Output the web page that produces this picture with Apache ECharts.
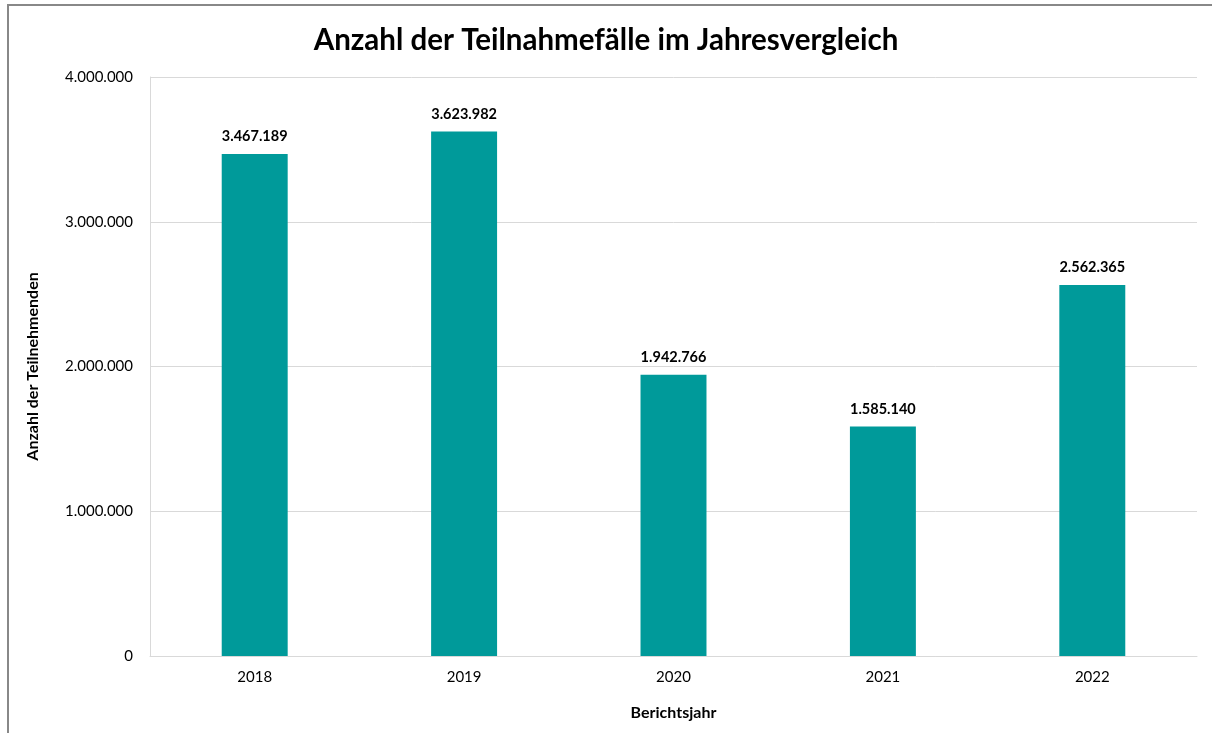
<!DOCTYPE html>
<html><head><meta charset="utf-8">
<script src="https://cdn.jsdelivr.net/npm/echarts@6/dist/echarts.min.js"></script>
<style>html,body{margin:0;padding:0;background:#fff}#c{width:1212px;height:733px}</style>
</head><body><div id="c"></div>
<script>
const categories = ['2018','2019','2020','2021','2022'];
const values = [3467189, 3623982, 1942766, 1585140, 2562365];
const yTicks = [0, 1000000, 2000000, 3000000, 4000000];
const FONT = 'Lato, "Open Sans", sans-serif';
function de(n){ return String(n).replace(/\B(?=(\d{3})+(?!\d))/g, '.'); }
const chart = echarts.init(document.getElementById('c'));
chart.setOption({
  animation:false,
  backgroundColor:'#fff',
  graphic:[
    {type:'line', shape:{x1:8,y1:4,x2:8,y2:733}, style:{stroke:'#888',lineWidth:2}},
    {type:'line', shape:{x1:7,y1:5,x2:1212,y2:5}, style:{stroke:'#888',lineWidth:2}}
  ],
  title:{text:'Anzahl der Teilnahmefälle im Jahresvergleich', left:'center', top:20,
    textStyle:{fontFamily:FONT,fontSize:29.5,fontWeight:'bold',color:'#000'}},
  grid:{left:150,right:15,top:77,bottom:77,containLabel:false},
  xAxis:{type:'category',data:categories,
    axisLine:{lineStyle:{color:'#d9d9d9'}},axisTick:{show:false},
    axisLabel:{fontFamily:FONT,fontSize:15,color:'#000',margin:14},
    name:'Berichtsjahr',nameLocation:'middle',nameGap:49,
    nameTextStyle:{fontFamily:FONT,fontSize:16,fontWeight:'bold',color:'#000'}},
  yAxis:{type:'value',min:0,max:4000000,interval:1000000,
    axisLine:{show:true,lineStyle:{color:'#d9d9d9'}},axisTick:{show:false},
    splitLine:{lineStyle:{color:'#d9d9d9'}},
    axisLabel:{fontFamily:FONT,fontSize:15,color:'#000',margin:17,
      formatter:v=>yTicks.includes(v)?de(v):''},
    name:'Anzahl der Teilnehmenden',nameLocation:'middle',nameGap:109,nameRotate:90,
    nameTextStyle:{fontFamily:FONT,fontSize:16,fontWeight:'bold',color:'#000'}},
  series:[{type:'bar',data:values,barWidth:'31.5%',
    itemStyle:{color:'#009a9a'},
    label:{show:true,position:'top',distance:10,formatter:p=>de(p.value),
      fontFamily:FONT,fontSize:14.5,fontWeight:'bold',color:'#000'}}]
});
</script></body></html>
